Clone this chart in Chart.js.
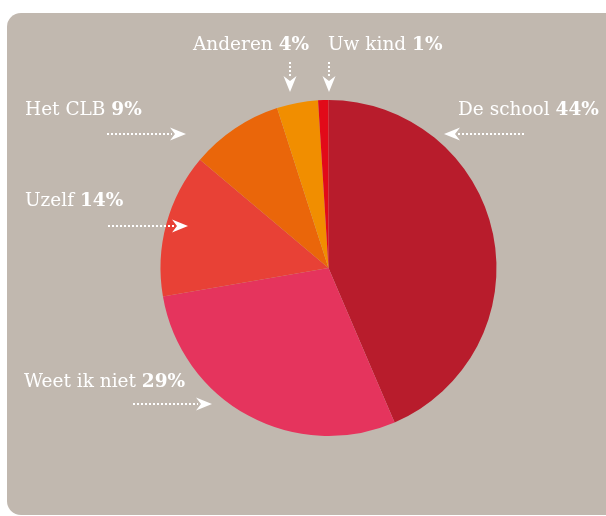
<!DOCTYPE html>
<html>
<head>
<meta charset="utf-8">
<script src="https://cdn.jsdelivr.net/npm/chart.js@4.4.1/dist/chart.umd.min.js"></script>
<style>
  html, body { margin: 0; padding: 0; background: #ffffff; overflow: hidden; }
  #wrap { position: relative; width: 606px; height: 516px; }
  #panel {
    position: absolute; left: 7px; top: 13px; width: 700px; height: 502px;
    background: #c1b8af; border-radius: 14px;
  }
  #schoolPie { position: absolute; left: 0; top: 0; }
</style>
</head>
<body>
<div id="wrap">
  <div id="panel"></div>
  <canvas id="schoolPie" width="606" height="516"></canvas>
</div>
<script>
// wie moet de leerling informeren
const labels = ["De school", "Weet ik niet", "Uzelf", "Het CLB", "Anderen", "Uw kind"];
const percentages = [44, 29, 14, 9, 4, 1];
const sliceColors = ["#b81c2c", "#e5345d", "#e84136", "#ea660a", "#f18e00", "#e20a19"];

// plaats van elk label + pijl (tekst linksboven, pijl als begin -> punt)
const callouts = [
  { tx: 458, ty: 115, from: [524, 134], to: [444, 134] },
  { tx: 24, ty: 387, from: [133, 404], to: [212, 404] },
  { tx: 25, ty: 206, from: [108, 226], to: [188, 226] },
  { tx: 25, ty: 115, from: [107, 134], to: [186, 134] },
  { tx: 193, ty: 50, from: [290, 62], to: [290, 92] },
  { tx: 328, ty: 50, from: [329, 62], to: [329, 92] },
];

function drawArrow(c, from, to) {
  const dx = to[0] - from[0];
  const dy = to[1] - from[1];
  const len = Math.hypot(dx, dy);
  const ux = dx / len, uy = dy / len;
  const head = 16;
  // stippellijn tot aan de punt
  c.save();
  c.strokeStyle = "#ffffff";
  c.lineWidth = 2;
  c.setLineDash([2, 2]);
  c.beginPath();
  c.moveTo(from[0], from[1]);
  c.lineTo(to[0] - ux * (head - 2), to[1] - uy * (head - 2));
  c.stroke();
  c.restore();
  // pijlpunt
  const px = -uy, py = ux;
  const bx = to[0] - ux * head, by = to[1] - uy * head;
  c.save();
  c.fillStyle = "#ffffff";
  c.beginPath();
  c.moveTo(to[0], to[1]);
  c.lineTo(bx + px * 6.5, by + py * 6.5);
  c.lineTo(to[0] - ux * (head - 5), to[1] - uy * (head - 5));
  c.lineTo(bx - px * 6.5, by - py * 6.5);
  c.closePath();
  c.fill();
  c.restore();
}

const calloutLabels = {
  id: "calloutLabels",
  afterDraw(chart) {
    const c = chart.ctx;
    const ds = chart.data.datasets[0];
    c.save();
    c.textBaseline = "alphabetic";
    c.textAlign = "left";
    chart.data.labels.forEach((name, i) => {
      const p = callouts[i];
      const txt = name + " ";
      c.fillStyle = "#ffffff";
      c.font = "18.5px 'DejaVu Serif', serif";
      c.fillText(txt, p.tx, p.ty);
      const w = c.measureText(txt).width;
      c.font = "bold 18.5px 'DejaVu Serif', serif";
      c.fillText(ds.data[i] + "%", p.tx + w, p.ty);
      drawArrow(c, p.from, p.to);
    });
    c.restore();
  },
};

const schoolPie = document.querySelector("#schoolPie");
if (schoolPie) {
  new Chart(schoolPie, {
    type: "pie",
    data: {
      labels: labels,
      datasets: [
        {
          data: percentages,
          backgroundColor: sliceColors,
          borderWidth: 0,
        },
      ],
    },
    options: {
      responsive: false,
      animation: false,
      layout: {
        padding: { top: 100, bottom: 80, left: 160, right: 109 },
      },
      plugins: {
        legend: { display: false },
        tooltip: { enabled: false },
      },
    },
    plugins: [calloutLabels],
  });
}
</script>
</body>
</html>
